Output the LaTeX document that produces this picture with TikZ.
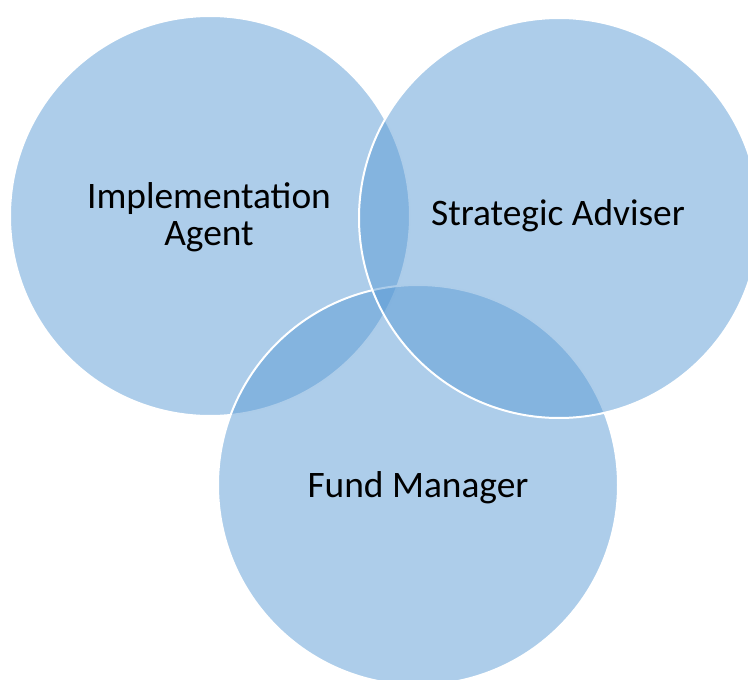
\documentclass[tikz,border=0pt]{standalone}
\usepackage{fontspec}
\setmainfont{Carlito}
\begin{document}
\begin{tikzpicture}[x=1pt,y=-1pt,
  venn/.style={fill=vennblue,fill opacity=0.5},
  rim/.style={draw=white,line width=2pt},
  lbl/.style={font=\fontsize{37.4}{37}\selectfont,text=black,align=center,inner sep=0pt}]
  \definecolor{vennblue}{RGB}{91,155,213}
  \useasboundingbox (0,0) rectangle (748,680);
  \clip (0,0) rectangle (748,680);
  % circles: left, bottom, right (stacking order)
  \fill[venn] (210,216) circle[radius=200];
  \draw[rim] (210,216) circle[radius=200];
  \fill[venn] (418,485) circle[radius=200];
  \draw[rim] (418,485) circle[radius=200];
  \fill[venn] (559,218) circle[radius=200];
  \draw[rim] (559,218) circle[radius=200];
  % labels (base anchor of the two-line label is its last line)
  \node[lbl,anchor=base] (impl) at (209,245) {Implementation\\Agent};
  \node[lbl,anchor=base] (strat) at (558,225) {Strategic Adviser};
  \node[lbl,anchor=base] (fund) at (418,497) {Fund Manager};
\end{tikzpicture}
\end{document}
